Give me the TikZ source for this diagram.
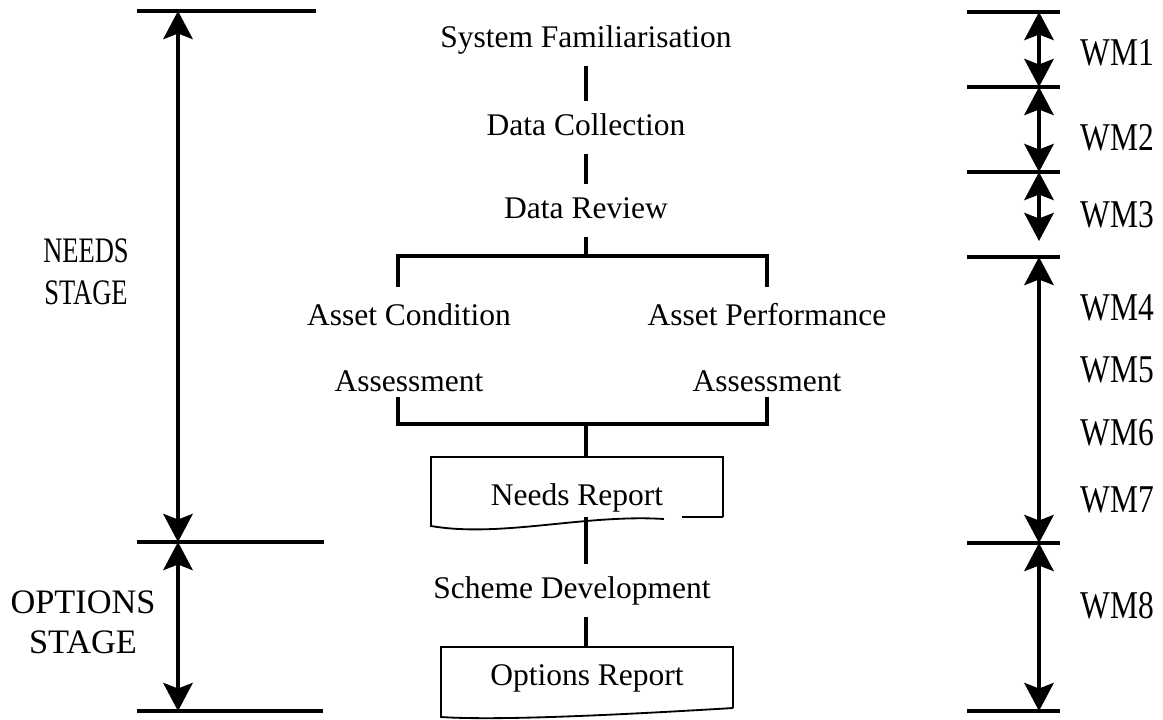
\documentclass[tikz,border=0pt]{standalone}
\usepackage{fontspec}
\setmainfont{Liberation Serif}
\usetikzlibrary{arrows.meta, positioning, calc}

\begin{document}
\begin{tikzpicture}[
  % one unit is one pixel of the scan, y runs downwards
  x=0.025cm, y=-0.025cm,
  activity/.style={font=\fontsize{22.4}{27}\selectfont, anchor=base,
                   text height=16pt, text depth=5pt, inner xsep=2pt, inner ysep=8pt},
  assess/.style={font=\fontsize{22.4}{47}\selectfont, align=center, inner sep=0pt},
  stagelabel/.style={font=\fontsize{24.4}{28.5}\selectfont, align=center, inner sep=0pt},
  wm/.style={font=\fontsize{22.4}{27}\selectfont, anchor=base west, inner sep=0pt},
  report/.style={minimum width=7.3cm, inner sep=0pt, outer sep=0pt,
                 font=\fontsize{22.4}{27}\selectfont},
  doc/.style={line width=1.3pt},
  link/.style={line width=2.6pt},
  tick/.style={line width=3pt},
  span/.style={{Stealth[length=20pt,width=21pt,inset=4pt]}-{Stealth[length=20pt,width=21pt,inset=4pt]},
               line width=2.4pt}
]
\useasboundingbox (0,0) rectangle (1163,719);

% --- the activities, top to bottom ----------------------------------------
\node[activity] (sysfam)  at (586,47)  {System Familiarisation};
\node[activity] (datacol) at (586,135) {Data Collection};
\node[activity] (datarev) at (586,218) {Data Review};
\node[assess]   (acond)   at (409,348) {Asset Condition\\Assessment};
\node[assess]   (aperf)   at (767,348) {Asset Performance\\Assessment};
\node[report, minimum height=1.5cm, text height=30pt, text depth=4pt]
  (needs) at (577,487) {Needs Report};
\node[activity] (scheme)  at (572,598) {Scheme Development};
\node[report, minimum height=1.525cm, text height=17pt, text depth=5pt]
  (opts) at (587,677.5) {Options Report};

% --- report outlines, wavy bottom edge --------------------------------------
\draw[doc] (needs.south east) -- (needs.north east) -- (needs.north west)
  -- ++(0,69) .. controls +(70,12) and +(-80,-5) .. ++(233,-7);
\draw[doc] (needs.south east) -- ++(-41,0);
\draw[doc] (opts.south east) -- (opts.north east) -- (opts.north west)
  -- ++(0,70) .. controls +(60,4) and +(-100,6) .. (opts.south east);

% --- flow lines and the split round the two assessments ---------------------
\coordinate (brtop) at (586,256);
\coordinate (brbot) at (586,424);
\coordinate (brl) at (398,256);
\coordinate (brr) at (767,256);
\coordinate (bbl) at (398,424);
\coordinate (bbr) at (767,424);

\draw[link] (sysfam) -- (datacol);
\draw[link] (datacol) -- (datarev);
\draw[link] (datarev) -- (brtop);
\draw[link] (brl) ++(0,31) -- (brl) -- (brr) -- ++(0,31);
\draw[link] (bbl) ++(0,-27) -- (bbl) -- (bbr) -- ++(0,-27);
\draw[link] (brbot) -- (needs.north -| brbot);
\draw[link] (needs.south -| brbot) -- (scheme.north -| brbot);
\draw[link] (scheme.south -| brbot) -- (opts.north -| brbot);

% --- stages on the left -----------------------------------------------------
\coordinate (ntop) at (178,11);
\coordinate (nmid) at (178,542);
\coordinate (nbot) at (178,711);
\draw[tick] (137,11) -- (316,11);
\draw[tick] (137,542) -- (324,542);
\draw[tick] (137,711) -- (323,711);
\draw[span] (ntop) -- (nmid);
\draw[span] (nmid) -- (nbot);
\node[stagelabel, font=\fontsize{25.5}{29.5}\selectfont] (needsst) at (86,272)
  {\scalebox{.74}[1]{NEEDS}\\\scalebox{.74}[1]{STAGE}};
\node[stagelabel] (optsst)  at (83,622)  {OPTIONS\\STAGE};

% --- work modules on the right ----------------------------------------------
\foreach \y [count=\i from 0] in {12,87,172,257,543,711} {
  \draw[tick] (967,\y) -- (1060,\y);
  \coordinate (w\i) at (1039,\y);
}
\coordinate (w2e) at (1039,241);
\draw[span] (w0) -- (w1);
\draw[span] (w1) -- (w2);
\draw[span] (w2) -- (w2e);
\draw[span] (w3) -- (w4);
\draw[span] (w4) -- (w5);
\foreach \n/\y in {1/65,2/150,3/227,4/320,5/382,6/445,7/512,8/618}
  \node[wm] (wm\n) at (1080,\y) {\scalebox{1}[1.25]{WM\n}};

\end{tikzpicture}
\end{document}
